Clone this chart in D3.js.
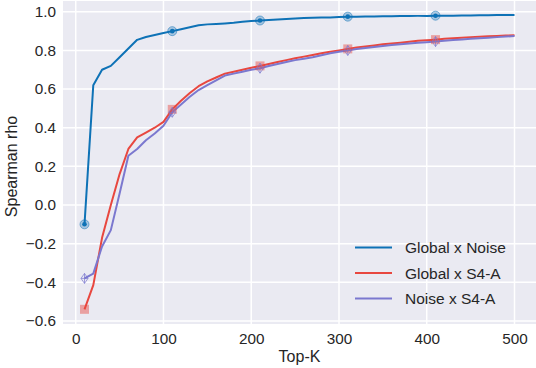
<!DOCTYPE html>
<html>
<head>
<meta charset="utf-8">
<script src="https://cdn.jsdelivr.net/npm/d3@7"></script>
<style>
  body { margin: 0; background: #fff; }
  text { font-family: "Liberation Sans", Arial, sans-serif; fill: #262626; }
</style>
</head>
<body>
<div id="chart"></div>
<script>
// Top-K values
const topK = [10, 20, 30, 40, 50, 60, 70, 80, 90, 100,
  110, 120, 130, 140, 150, 160, 170, 180, 190, 200,
  210, 220, 230, 240, 250, 260, 270, 280, 290, 300,
  310, 320, 330, 340, 350, 360, 370, 380, 390, 400,
  410, 420, 430, 440, 450, 460, 470, 480, 490, 500];

const globalNoise = [-0.10, 0.62, 0.70, 0.72, 0.765, 0.81, 0.855, 0.87, 0.88, 0.89,
  0.90, 0.91, 0.92, 0.93, 0.935, 0.937, 0.94, 0.943, 0.948, 0.952,
  0.955, 0.958, 0.96, 0.963, 0.966, 0.968, 0.969, 0.97, 0.971, 0.973,
  0.975, 0.975, 0.976, 0.976, 0.977, 0.977, 0.978, 0.978, 0.979, 0.979,
  0.98, 0.98, 0.98, 0.981, 0.981, 0.982, 0.982, 0.983, 0.983, 0.984];

const globalS4A = [-0.54, -0.415, -0.17, 0.0, 0.16, 0.29, 0.35, 0.375, 0.40, 0.43,
  0.495, 0.54, 0.58, 0.615, 0.64, 0.66, 0.68, 0.69, 0.70, 0.71,
  0.72, 0.73, 0.74, 0.75, 0.76, 0.768, 0.776, 0.785, 0.793, 0.80,
  0.808, 0.815, 0.82, 0.826, 0.832, 0.836, 0.84, 0.845, 0.85, 0.853,
  0.856, 0.86, 0.863, 0.866, 0.869, 0.871, 0.873, 0.875, 0.877, 0.879];

const noiseS4A = [-0.38, -0.355, -0.215, -0.13, 0.06, 0.255, 0.29, 0.335, 0.37, 0.41,
  0.48, 0.52, 0.56, 0.595, 0.62, 0.645, 0.67, 0.68, 0.69, 0.70,
  0.708, 0.72, 0.73, 0.74, 0.75, 0.757, 0.765, 0.775, 0.785, 0.793,
  0.80, 0.807, 0.813, 0.818, 0.823, 0.828, 0.832, 0.836, 0.84, 0.843,
  0.846, 0.85, 0.854, 0.857, 0.86, 0.863, 0.866, 0.869, 0.872, 0.875];

const seriesNames = ['Global x Noise', 'Global x S4-A', 'Noise x S4-A'];
const xTicks = [0, 100, 200, 300, 400, 500];
const yTicks = [-0.6, -0.4, -0.2, 0.0, 0.2, 0.4, 0.6, 0.8, 1.0];
const markEvery = 10;

const series = [
  { name: seriesNames[0], values: globalNoise, color: '#0e72b6', marker: 'circle' },
  { name: seriesNames[1], values: globalS4A, color: '#e8473f', marker: 'square' },
  { name: seriesNames[2], values: noiseS4A, color: '#7b78cf', marker: 'diamond' }
];

const W = 536, H = 368;
const plot = { left: 63, right: 536, top: 1, bottom: 324 };

const svg = d3.select('#chart').append('svg')
  .attr('width', W).attr('height', H);

const x = d3.scaleLinear().domain([-14.5, 524.5]).range([plot.left, plot.right]);
const y = d3.scaleLinear().domain([-0.616, 1.056]).range([plot.bottom, plot.top]);

// fondo
svg.append('rect')
  .attr('x', plot.left).attr('y', plot.top)
  .attr('width', plot.right - plot.left).attr('height', plot.bottom - plot.top)
  .attr('fill', '#eaeaf2');

// rejilla
const grid = svg.append('g');
grid.selectAll('.gx').data(xTicks).enter().append('line')
  .attr('x1', d => x(d)).attr('x2', d => x(d))
  .attr('y1', plot.top).attr('y2', plot.bottom)
  .attr('stroke', '#fff').attr('stroke-width', 1.5);
grid.selectAll('.gy').data(yTicks).enter().append('line')
  .attr('y1', d => y(d)).attr('y2', d => y(d))
  .attr('x1', plot.left).attr('x2', plot.right)
  .attr('stroke', '#fff').attr('stroke-width', 1.5);

// ejes
const fmtY = d => d3.format('.1f')(d).replace('-', '\u2212');
const xAxis = svg.append('g')
  .attr('transform', `translate(0,${plot.bottom})`)
  .call(d3.axisBottom(x).tickValues(xTicks).tickSize(0).tickPadding(9));
const yAxis = svg.append('g')
  .attr('transform', `translate(${plot.left},0)`)
  .call(d3.axisLeft(y).tickValues(yTicks).tickFormat(fmtY).tickSize(0).tickPadding(7));
[xAxis, yAxis].forEach(a => {
  a.select('.domain').remove();
  a.selectAll('text').attr('font-size', 15.3).attr('fill', '#262626')
    .attr('font-family', '"Liberation Sans", Arial, sans-serif');
});

svg.append('text')
  .attr('x', (plot.left + plot.right) / 2).attr('y', 362)
  .attr('text-anchor', 'middle').attr('font-size', 16)
  .text('Top-K');
svg.append('text')
  .attr('transform', `translate(17,${(plot.top + plot.bottom) / 2 + 4}) rotate(-90)`)
  .attr('text-anchor', 'middle').attr('font-size', 16)
  .text('Spearman rho');

// líneas
const line = d3.line()
  .x((d, i) => x(topK[i]))
  .y(d => y(d));

series.forEach(s => {
  svg.append('path')
    .datum(s.values)
    .attr('fill', 'none')
    .attr('stroke', s.color)
    .attr('stroke-width', 2)
    .attr('stroke-linejoin', 'round')
    .attr('d', line);
});

// marcadores
series.forEach(s => {
  const pts = s.values.map((v, i) => ({ k: topK[i], v, i }))
    .filter(d => d.i % markEvery === 0);
  const g = svg.append('g');
  if (s.marker === 'circle') {
    g.selectAll('circle.o').data(pts).enter().append('circle')
      .attr('cx', d => x(d.k)).attr('cy', d => y(d.v)).attr('r', 4.5)
      .attr('fill', s.color).attr('fill-opacity', 0.3)
      .attr('stroke', s.color).attr('stroke-opacity', 0.5).attr('stroke-width', 1);
    g.selectAll('circle.i').data(pts).enter().append('circle')
      .attr('cx', d => x(d.k)).attr('cy', d => y(d.v)).attr('r', 2.3)
      .attr('fill', s.color);
  } else if (s.marker === 'square') {
    g.selectAll('rect').data(pts).enter().append('rect')
      .attr('x', d => x(d.k) - 4.5).attr('y', d => y(d.v) - 4.5)
      .attr('width', 9).attr('height', 9)
      .attr('fill', s.color).attr('fill-opacity', 0.45);
  } else {
    g.selectAll('path').data(pts).enter().append('path')
      .attr('transform', d => `translate(${x(d.k)},${y(d.v)})`)
      .attr('d', 'M0,-5L3.5,0L0,5L-3.5,0Z M-3.5,0L3.5,0 M0,-5L0,5')
      .attr('fill', 'none')
      .attr('stroke', s.color).attr('stroke-opacity', 0.7).attr('stroke-width', 1);
  }
});

// leyenda
const legend = svg.append('g');
series.forEach((s, i) => {
  const ly = 247.5 + i * 25.5;
  legend.append('line')
    .attr('x1', 355).attr('x2', 392).attr('y1', ly).attr('y2', ly)
    .attr('stroke', s.color).attr('stroke-width', 2);
  legend.append('text')
    .attr('x', 405).attr('y', ly + 5.5)
    .attr('font-size', 15.5)
    .text(s.name);
});
</script>
</body>
</html>
